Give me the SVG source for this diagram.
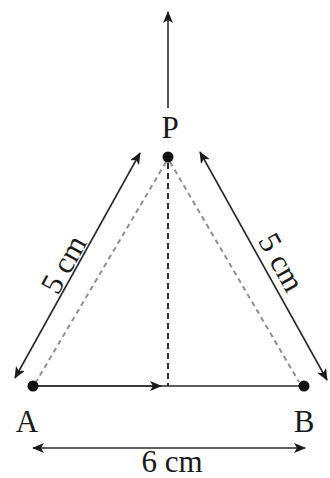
<svg xmlns="http://www.w3.org/2000/svg" width="330" height="478" viewBox="0 0 330 478">
<style>
.ln{stroke:#2a2a2a;stroke-width:1.6;fill:none}
.gd{stroke:#8f8f8f;stroke-width:2;stroke-dasharray:5 4;fill:none}
.bd{stroke:#1a1a1a;stroke-width:1.8;stroke-dasharray:6 4;fill:none}
.lbl{font-family:"Liberation Serif","Times New Roman",serif;font-size:31px;fill:#1a1a1a}
.dot{fill:#111}
</style>
<defs>
<marker id="ah" viewBox="0 0 12 10" refX="11" refY="5" markerWidth="12" markerHeight="10" markerUnits="userSpaceOnUse" orient="auto-start-reverse">
<path d="M0,0 L12,5 L0,10 L3,5 Z" fill="#1a1a1a"/>
</marker>
</defs>
<g id="connectors">
<line class="gd" x1="166" y1="162" x2="36" y2="382"/>
<line class="gd" x1="170" y1="162" x2="299" y2="382"/>
<line class="bd" x1="168" y1="163" x2="168" y2="386"/>
<line class="ln" x1="168" y1="108" x2="168" y2="12" marker-end="url(#ah)"/>
<line class="ln" x1="33" y1="386" x2="302" y2="386" stroke-width="2"/>
<line class="ln" x1="33" y1="386" x2="161" y2="386" marker-end="url(#ah)"/>
<line class="ln" x1="15" y1="378" x2="140" y2="153" marker-start="url(#ah)" marker-end="url(#ah)"/>
<line class="ln" x1="200" y1="152" x2="327" y2="380" marker-start="url(#ah)" marker-end="url(#ah)"/>
<line class="ln" x1="33" y1="448" x2="305" y2="448" marker-start="url(#ah)" marker-end="url(#ah)"/>
</g>
<g id="P">
<circle class="dot" cx="168" cy="157" r="5.5"/>
<text class="lbl" x="170" y="138" text-anchor="middle">P</text>
</g>
<g id="A">
<circle class="dot" cx="33" cy="386" r="5.5"/>
<text class="lbl" x="27" y="432" text-anchor="middle">A</text>
</g>
<g id="B">
<circle class="dot" cx="304" cy="386" r="5.5"/>
<text class="lbl" x="304" y="432" text-anchor="middle">B</text>
</g>
<g id="labels">
<text class="lbl" text-anchor="middle" transform="translate(63,264) rotate(-61)" y="11">5 cm</text>
<text class="lbl" text-anchor="middle" transform="translate(282,262) rotate(61)" y="11">5 cm</text>
<text class="lbl" x="172" y="472" text-anchor="middle">6 cm</text>
</g>
</svg>
